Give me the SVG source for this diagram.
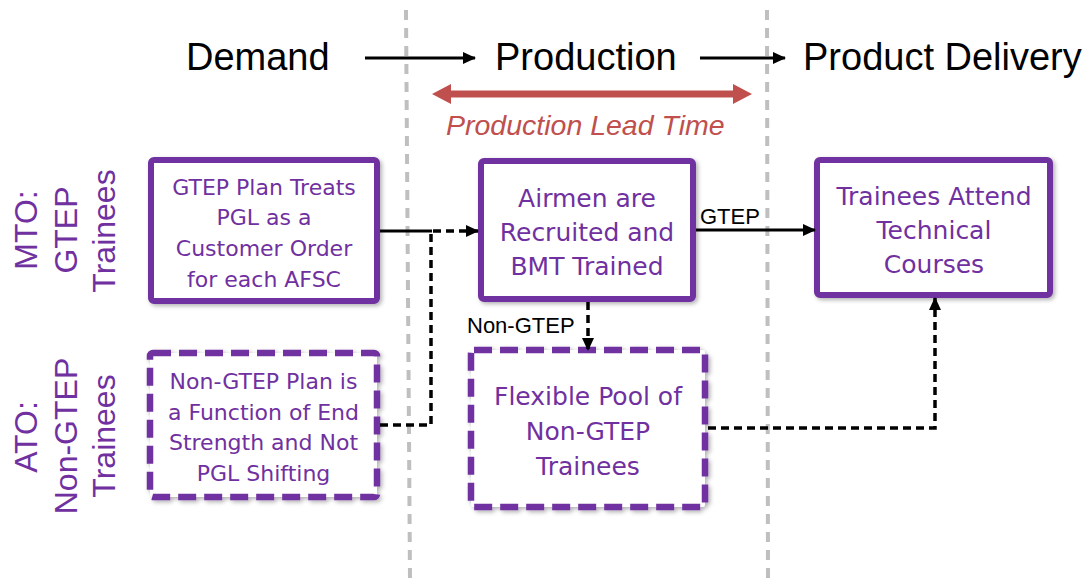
<svg xmlns="http://www.w3.org/2000/svg" width="1088" height="579" viewBox="0 0 1088 579">
<defs>
<style>
.box{fill:#fff;stroke:#7030A0;stroke-width:6;filter:url(#sh)}
.dbox{stroke-width:6.5;stroke-dasharray:18 8}
.bt{font-family:"DejaVu Sans",sans-serif;fill:#7030A0;text-anchor:middle}
.s22{font-size:22px}
.s25{font-size:25px}
.hd{font-family:"Liberation Sans",Arial,sans-serif;font-size:38px;fill:#000}
.side{font-family:"Liberation Sans",Arial,sans-serif;font-size:32px;fill:#7030A0;text-anchor:middle}
.lbl{font-family:"Liberation Sans",Arial,sans-serif;font-size:22px;fill:#000}
.guide{stroke:#bfbfbf;stroke-width:4;stroke-dasharray:10 8;fill:none}
.con{stroke:#000;stroke-width:3;fill:none}
.dash{stroke-width:3.5;stroke-dasharray:8 5}
</style>
<filter id="sh" x="-10%" y="-10%" width="125%" height="125%">
<feDropShadow dx="2" dy="2" stdDeviation="2" flood-color="#000" flood-opacity="0.3"/>
</filter>
<marker id="ah" markerUnits="userSpaceOnUse" markerWidth="13" markerHeight="12" refX="12" refY="6" orient="auto">
<path d="M0,0 L13,6 L0,12 z" fill="#000"/>
</marker>
</defs>
<rect width="1088" height="579" fill="#fff"/>

<g id="guides">
<path class="guide" d="M406,10 L410,579"/>
<path class="guide" d="M767,10 L768,579"/>
</g>

<g id="header">
<text class="hd" x="186" y="70">Demand</text>
<text class="hd" x="495" y="70">Production</text>
<text class="hd" x="803" y="70">Product Delivery</text>
<path d="M432,94 L451,84 L451,90.5 L733,90.5 L733,84 L752,94 L733,104 L733,97.5 L451,97.5 L451,104 z" fill="#c0504d"/>
<text x="446" y="135" font-family="Liberation Sans, Arial, sans-serif" font-size="28.5" font-style="italic" fill="#c0504d">Production Lead Time</text>
</g>

<g id="side-labels">
<g transform="translate(37,230) rotate(-90)"><text class="side" x="0" y="0">MTO:</text></g>
<g transform="translate(77,230) rotate(-90)"><text class="side" x="0" y="0">GTEP</text></g>
<g transform="translate(115,231) rotate(-90)"><text class="side" x="0" y="0">Trainees</text></g>
<g transform="translate(37,437) rotate(-90)"><text class="side" x="0" y="0">ATO:</text></g>
<g transform="translate(77,436) rotate(-90)"><text class="side" x="0" y="0">Non-GTEP</text></g>
<g transform="translate(115,436) rotate(-90)"><text class="side" x="0" y="0">Trainees</text></g>
</g>

<g id="node-gtep-plan">
<rect class="box" x="151" y="160" width="226" height="141" rx="3"/>
<text class="bt s22"><tspan x="264" y="195">GTEP Plan Treats</tspan><tspan x="264" y="225">PGL as a</tspan><tspan x="264" y="256">Customer Order</tspan><tspan x="264" y="287">for each AFSC</tspan></text>
</g>

<g id="node-airmen">
<rect class="box" x="481" y="161" width="212" height="138" rx="3"/>
<text class="bt s25"><tspan x="587" y="207">Airmen are</tspan><tspan x="587" y="241">Recruited and</tspan><tspan x="587" y="275">BMT Trained</tspan></text>
</g>

<g id="node-courses">
<rect class="box" x="817" y="160" width="233" height="135" rx="3"/>
<text class="bt s25"><tspan x="934" y="205">Trainees Attend</tspan><tspan x="934" y="239">Technical</tspan><tspan x="934" y="273">Courses</tspan></text>
</g>

<g id="node-nongtep-plan">
<rect class="box dbox" x="150" y="353" width="227" height="144" rx="3"/>
<text class="bt s22"><tspan x="263.5" y="389">Non-GTEP Plan is</tspan><tspan x="263.5" y="420">a Function of End</tspan><tspan x="263.5" y="450">Strength and Not</tspan><tspan x="263.5" y="481">PGL Shifting</tspan></text>
</g>

<g id="node-pool">
<rect class="box dbox" x="471" y="350" width="234" height="157" rx="3"/>
<text class="bt s25"><tspan x="588" y="405">Flexible Pool of</tspan><tspan x="588" y="440">Non-GTEP</tspan><tspan x="588" y="475">Trainees</tspan></text>
</g>

<g id="connectors">
<path class="con" d="M365,58 H475" marker-end="url(#ah)"/>
<path class="con" d="M700,58 H785" marker-end="url(#ah)"/>
<path class="con" d="M380,231 H432"/>
<path class="con dash" d="M380,425 H431 V231 H478" marker-end="url(#ah)"/>
<path class="con" d="M696,230 H815" marker-end="url(#ah)"/>
<text class="lbl" x="700" y="224">GTEP</text>
<path class="con dash" d="M588,302 V350" marker-end="url(#ah)"/>
<text class="lbl" x="467" y="333">Non-GTEP</text>
<path class="con dash" d="M708,428 H935 V298" marker-end="url(#ah)"/>
</g>
</svg>
